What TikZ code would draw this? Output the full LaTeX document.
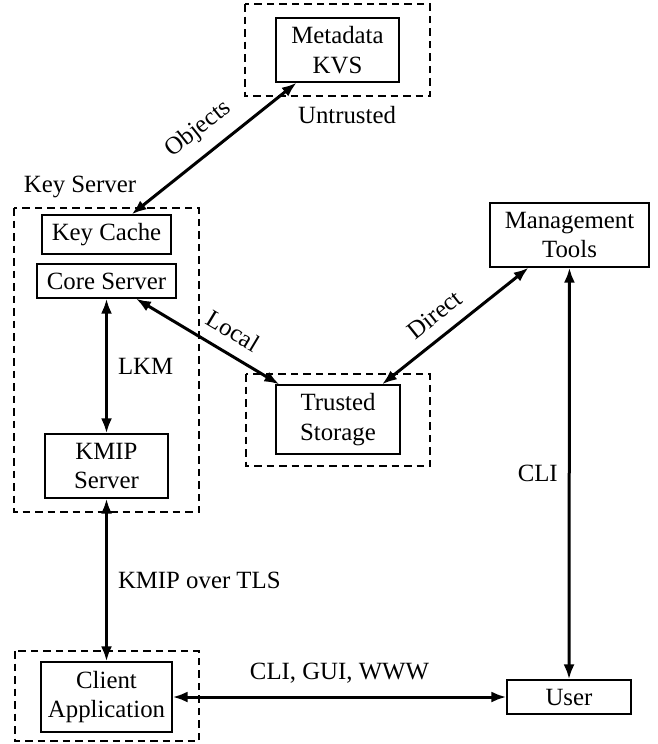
\documentclass[tikz,border=0pt]{standalone}
\usepackage{fontspec}
\setmainfont{Liberation Serif}
\usetikzlibrary{arrows.meta}
\begin{document}
\begin{tikzpicture}[x=1pt,y=-1pt,
  font=\fontsize{24.8}{29.5}\selectfont,
  box/.style={draw, line width=1.2pt, inner sep=0pt, align=center},
  group/.style={draw, line width=1.2pt, dash pattern=on 7.5pt off 5pt},
  link/.style={line width=3pt, {Latex[length=15pt,width=11pt]}-{Latex[length=15pt,width=11pt]}},
  lbl/.style={inner sep=4pt}]

\useasboundingbox (0,0) rectangle (657,744);

% trust domains
\draw[group] (245,4) rectangle (430,96);
\draw[group] (14,208) rectangle (199,512);
\draw[group] (246,374) rectangle (430,466);
\draw[group] (15,651) rectangle (199,741);

% components
\node[box, minimum width=123pt, minimum height=64pt] (meta)     at (337.5,50)  {Metadata\\KVS};
\node[box, minimum width=129pt, minimum height=39pt] (keycache) at (106.5,234.5) {Key Cache};
\node[box, minimum width=139pt, minimum height=34pt] (core)     at (106.5,281) {Core Server};
\node[box, minimum width=123pt, minimum height=64pt] (kmip)     at (106.5,466) {KMIP\\Server};
\node[box, minimum width=124pt, minimum height=69pt] (trusted)  at (338,419.5) {Trusted\\Storage};
\node[box, minimum width=159pt, minimum height=64pt] (mgmt)     at (569.5,235) {Management\\Tools};
\node[box, minimum width=131pt, minimum height=70pt] (client)   at (106.5,697) {Client\\Application};
\node[box, minimum width=124pt, minimum height=34pt] (user)     at (569,697)   {User};

% domain captions
\node (untrustedlbl) at (347,115) {Untrusted};
\node (keyserverlbl) at (80,187) {Key Server};

% connections
\draw[link] (keycache) -- node[lbl, sloped, above=8pt] {Objects} (meta);
\draw[link] (core) -- node[lbl, sloped, above=8pt, pos=0.6] {Local} (trusted);
\draw[link] (trusted) -- node[lbl, sloped, above=8pt, pos=0.45] {Direct} (mgmt);
\draw[link] (core) -- node[lbl, right=6pt] {LKM} (kmip);
\draw[link] (kmip) -- node[lbl, right=6pt] {KMIP over TLS} (client);
\draw[link] (mgmt) -- node[lbl, left=6pt] {CLI} (user);
\draw[link] (client) -- node[lbl, above=8pt] {CLI, GUI, WWW} (user);
\end{tikzpicture}
\end{document}
